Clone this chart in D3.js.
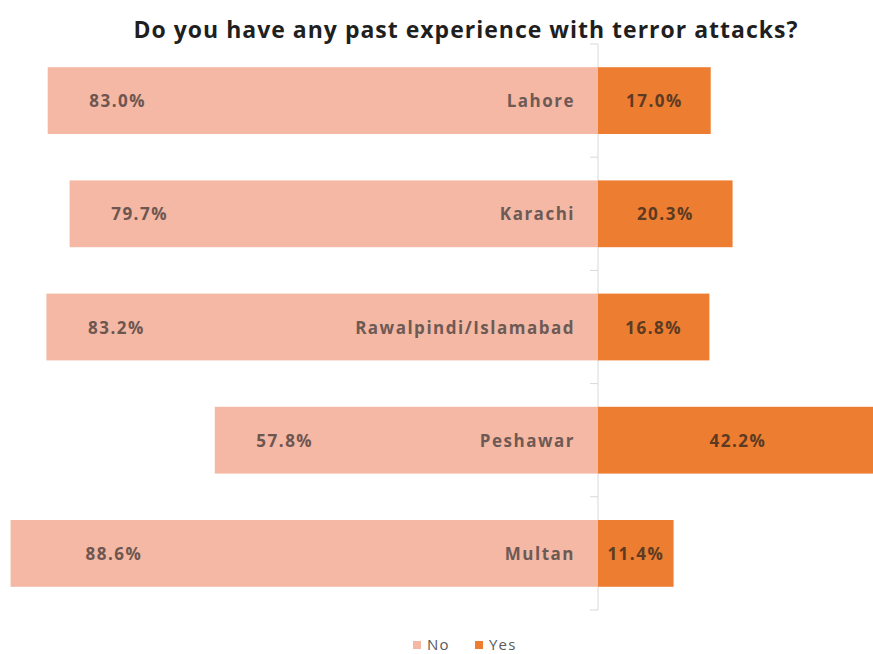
<!DOCTYPE html>
<html>
<head>
<meta charset="utf-8">
<script src="https://cdn.jsdelivr.net/npm/d3@7"></script>
<style>
  html, body { margin: 0; padding: 0; background: #fff; }
  svg { display: block; }
  text { font-family: "Open Sans", sans-serif; }
</style>
</head>
<body>
<svg id="chart" width="873" height="654"></svg>
<script>
// Survey answers by city (percent of respondents)
const cities = ["Lahore", "Karachi", "Rawalpindi/Islamabad", "Peshawar", "Multan"];
const noValues = [83.0, 79.7, 83.2, 57.8, 88.6];
const yesValues = [17.0, 20.3, 16.8, 42.2, 11.4];
const seriesNames = ["No", "Yes"];
const titleText = "Do you have any past experience with terror attacks?";

const colorNo = "#F4B8A5";
const colorYes = "#ED7D31";

const svg = d3.select("#chart");
const centerX = 598;
const pxPerPct = 6.63;

// Diverging scale: "No" extends left from the centre line, "Yes" to the right
const x = d3.scaleLinear()
  .domain([-100, 100])
  .range([centerX - 100 * pxPerPct, centerX + 100 * pxPerPct]);

const y = d3.scaleBand()
  .domain(cities)
  .range([44, 610])
  .paddingInner(0.41)
  .paddingOuter(0.205);

const rows = cities.map((c, i) => ({ city: c, no: noValues[i], yes: yesValues[i] }));

// Title
svg.append("text")
  .attr("x", 466)
  .attr("y", 38)
  .attr("text-anchor", "middle")
  .attr("font-size", 23)
  .attr("font-weight", 700)
  .attr("letter-spacing", "1px")
  .attr("fill", "#1f1f1f")
  .text(titleText);

// Centre axis with ticks between the categories
const axisG = svg.append("g").attr("transform", `translate(${centerX},0)`);
const boundaries = d3.range(cities.length + 1).map(i => 44 + i * y.step());
axisG.append("line")
  .attr("x1", 0).attr("x2", 0)
  .attr("y1", 44).attr("y2", 610)
  .attr("stroke", "#d9d9d9").attr("stroke-width", 1);
axisG.selectAll("line.tick")
  .data(boundaries)
  .join("line")
  .attr("class", "tick")
  .attr("x1", -8).attr("x2", 0)
  .attr("y1", d => d).attr("y2", d => d)
  .attr("stroke", "#d9d9d9").attr("stroke-width", 1);

const barsG = svg.append("g");

// "No" bars
barsG.selectAll("rect.no")
  .data(rows)
  .join("rect")
  .attr("class", "no")
  .attr("x", d => x(-d.no))
  .attr("y", d => y(d.city))
  .attr("width", d => x(0) - x(-d.no))
  .attr("height", y.bandwidth())
  .attr("fill", colorNo);

// "Yes" bars
barsG.selectAll("rect.yes")
  .data(rows)
  .join("rect")
  .attr("class", "yes")
  .attr("x", x(0))
  .attr("y", d => y(d.city))
  .attr("width", d => x(d.yes) - x(0))
  .attr("height", y.bandwidth())
  .attr("fill", colorYes);

const labelStyle = sel => sel
  .attr("font-size", 17)
  .attr("font-weight", 700)
  .attr("letter-spacing", "1.5px")
  .attr("dominant-baseline", "central");

// Percent labels for "No", placed near the outer end of each bar
barsG.selectAll("text.noLabel")
  .data(rows)
  .join("text")
  .attr("class", "noLabel")
  .attr("x", d => Math.max(x(-d.no), 44) + 70)
  .attr("y", d => y(d.city) + y.bandwidth() / 2)
  .attr("text-anchor", "middle")
  .attr("fill", "#6e5650")
  .call(labelStyle)
  .text(d => d.no.toFixed(1) + "%");

// City names, right-aligned against the centre line
barsG.selectAll("text.cityLabel")
  .data(rows)
  .join("text")
  .attr("class", "cityLabel")
  .attr("x", centerX - 23)
  .attr("y", d => y(d.city) + y.bandwidth() / 2)
  .attr("text-anchor", "end")
  .attr("fill", "#6e5a55")
  .call(labelStyle)
  .text(d => d.city);

// Percent labels for "Yes", centred in each bar
barsG.selectAll("text.yesLabel")
  .data(rows)
  .join("text")
  .attr("class", "yesLabel")
  .attr("x", d => (x(0) + x(d.yes)) / 2)
  .attr("y", d => y(d.city) + y.bandwidth() / 2)
  .attr("text-anchor", "middle")
  .attr("fill", "#5c3b22")
  .call(labelStyle)
  .text(d => d.yes.toFixed(1) + "%");

// Legend
const legend = svg.append("g").attr("transform", "translate(413,645)");
const legendItems = [
  { name: seriesNames[0], color: colorNo, x: 0 },
  { name: seriesNames[1], color: colorYes, x: 62 }
];
const li = legend.selectAll("g").data(legendItems).join("g")
  .attr("transform", d => `translate(${d.x},0)`);
li.append("rect")
  .attr("x", 0).attr("y", -4).attr("width", 8).attr("height", 8)
  .attr("fill", d => d.color);
li.append("text")
  .attr("x", 14).attr("y", 5)
  .attr("font-size", 15)
  .attr("letter-spacing", "1.2px")
  .attr("fill", "#595959")
  .text(d => d.name);
</script>
</body>
</html>
